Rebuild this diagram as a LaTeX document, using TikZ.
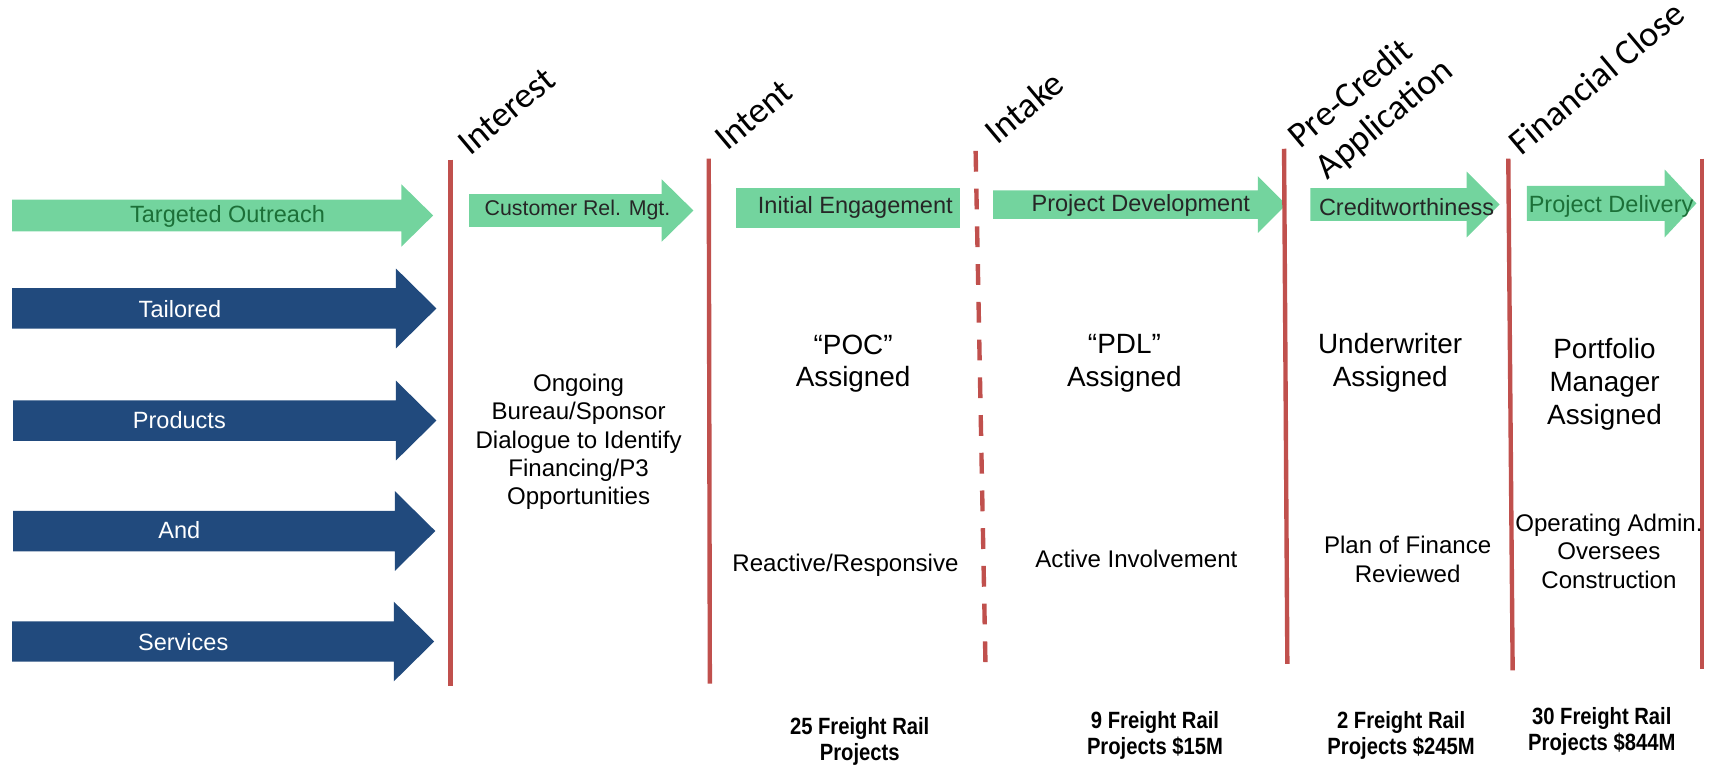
\documentclass[tikz,border=0pt]{standalone}
\usepackage{fontspec}
\setmainfont{Liberation Sans}
\newfontfamily\phasefont{Carlito}
\newfontfamily\narrowfont[FakeStretch=0.86]{Liberation Sans}
\usepackage{xcolor}
\usepackage{tikz}

\definecolor{flowgreen}{RGB}{115,212,158}
\definecolor{textgreen}{RGB}{28,112,56}
\definecolor{flowblue}{RGB}{33,74,125}
\definecolor{stagered}{RGB}{192,80,77}

% style, left x, head x, tip x, mid y, body half, head half
\newcommand{\blockarrow}[7]{%
  \fill[#1] (#2,#5-#6) -- (#3,#5-#6) -- (#3,#5-#7) -- (#4,#5) -- (#3,#5+#7) -- (#3,#5+#6) -- (#2,#5+#6) -- cycle;}

\begin{document}
\begin{tikzpicture}[
    x=1pt, y=-1pt,
    stage/.style={draw=stagered, line width=4pt},
    phase/.style={font=\phasefont\fontsize{33}{39}\selectfont, rotate=40, anchor=base west, inner sep=0pt},
    flowtext/.style={font=\fontsize{21.5}{26}\selectfont, text=black!85, inner sep=0pt},
    bluetext/.style={font=\fontsize{21.5}{26}\selectfont, text=white, inner sep=0pt},
    note/.style={font=\fontsize{22}{26}\selectfont, align=center, inner sep=0pt},
    role/.style={font=\fontsize{25.5}{30}\selectfont, align=center, inner sep=0pt},
    count/.style={font=\narrowfont\bfseries\fontsize{21.5}{23.5}\selectfont, align=center, inner sep=0pt}
]

\useasboundingbox (0,0) rectangle (1568,699);

% green flow
\blockarrow{flowgreen}{11}{367}{396}{197}{14.5}{28.5}
\blockarrow{flowgreen}{429}{605}{634}{192.5}{15}{28.5}
\fill[flowgreen] (673,172) rectangle (878,208);
\blockarrow{flowgreen}{908}{1150}{1176}{187}{13}{26}
\blockarrow{flowgreen}{1198}{1341}{1371}{187}{15}{30}
\blockarrow{flowgreen}{1396}{1522}{1551}{186}{16}{31}

% blue flow
\blockarrow{flowblue}{11}{362}{399}{282}{18.5}{36.5}
\blockarrow{flowblue}{12}{362}{399}{384.5}{18.5}{36.5}
\blockarrow{flowblue}{12}{361}{398}{485.5}{18.5}{36.5}
\blockarrow{flowblue}{11}{360}{397}{586.5}{18.5}{36.5}

\node[flowtext, text=textgreen] (outreach) at (208,198) {Targeted Outreach};
\node[flowtext, font=\fontsize{19.5}{23}\selectfont] (crm) at (528,192) {Customer Rel. Mgt.};
\node[flowtext] (engage) at (782,190) {Initial Engagement};
\node[flowtext] (develop) at (1043,187.5) {Project Development};
\node[flowtext] (credit) at (1286,189) {Creditworthiness};
\node[flowtext, text=textgreen] (delivery) at (1473,189) {Project Delivery};

\node[bluetext] (tailored) at (164.5,283) {Tailored};
\node[bluetext] (products) at (164,384) {Products};
\node[bluetext] (and) at (164,485) {And};
\node[bluetext] (services) at (167.5,587) {Services};

% stage lines
\draw[stage] (412,146) -- (412,627);
\draw[stage] (648,145) -- (649,625);
\draw[stage, dash pattern=on 19pt off 15.5pt] (892,138) -- (901,607);
\draw[stage] (1174,136) -- (1177,607);
\draw[stage] (1379,145) -- (1383,613);
\draw[stage] (1556,145) -- (1556,612);

\node[phase] (interest) at (430,143) {Interest};
\node[phase] (intent) at (665,139) {Intent};
\node[phase] (intake) at (912,133) {Intake};
\node[phase] (precredit) at (1189,137) {Pre-Credit};
\node[phase] (application) at (1214,165) {Application};
\node[phase] (close) at (1391,143) {Financial Close};

\node[note] (dialogue) at (529,404) {Ongoing\\Bureau/Sponsor\\Dialogue to Identify\\Financing/P3\\Opportunities};

\node[role] (poc) at (780,332.5) {“POC”\\Assigned};
\node[role] (pdl) at (1028,332.5) {“PDL”\\Assigned};
\node[role] (underwriter) at (1271,332) {Underwriter\\Assigned};
\node[role] (portfolio) at (1467,351.5) {Portfolio\\Manager\\Assigned};

\node[note] (reactive) at (773,516.5) {Reactive/Responsive};
\node[note] (active) at (1039,511) {Active Involvement};
\node[note] (finance) at (1287,511.5) {Plan of Finance\\Reviewed};
\node[note] (oversees) at (1471,504) {Operating Admin.\\Oversees\\Construction};

\node[count] (count25) at (786,678) {25 Freight Rail\\Projects};
\node[count] (count9) at (1056,672.5) {9 Freight Rail\\Projects \$15M};
\node[count] (count2) at (1281,672.5) {2 Freight Rail\\Projects \$245M};
\node[count] (count30) at (1464.5,669) {30 Freight Rail\\Projects \$844M};

\end{tikzpicture}
\end{document}
